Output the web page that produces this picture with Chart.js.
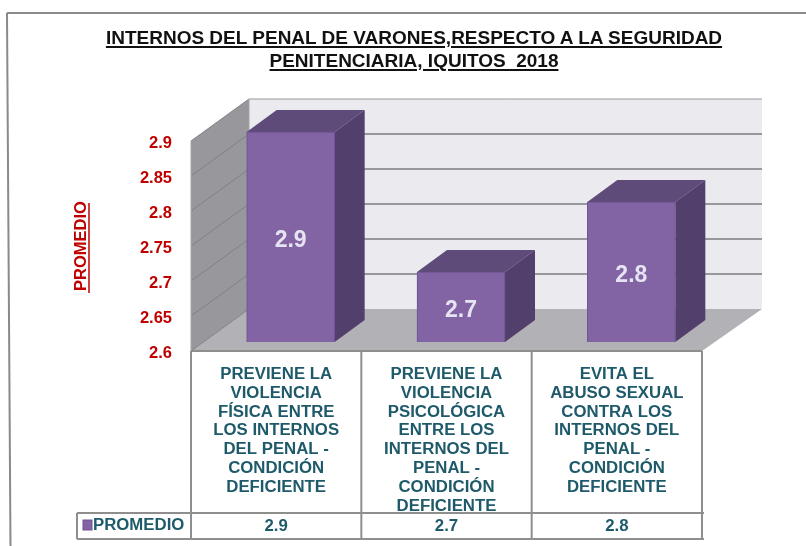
<!DOCTYPE html>
<html>
<head>
<meta charset="utf-8">
<script src="https://cdn.jsdelivr.net/npm/chart.js@4"></script>
<style>
  body { margin: 0; background: #fff; }
  #wrap { position: relative; width: 806px; height: 546px; overflow: hidden; }
  #title {
    position: absolute; left: 0; top: 26px; width: 828px;
    text-align: center; font: bold 19px/23px "Liberation Sans", Arial, sans-serif;
    color: #111; text-decoration: underline; text-decoration-thickness: 2px;
    text-underline-offset: 2px;
  }
  canvas { display: block; }
</style>
</head>
<body>
<div id="wrap">
  <div id="title">INTERNOS DEL PENAL DE VARONES,RESPECTO A LA SEGURIDAD<br>PENITENCIARIA, IQUITOS&nbsp; 2018</div>
  <canvas id="chart" width="806" height="546"></canvas>
</div>
<script>
const categories = [
  ['PREVIENE LA', 'VIOLENCIA', 'FÍSICA ENTRE', 'LOS INTERNOS', 'DEL PENAL -', 'CONDICIÓN', 'DEFICIENTE'],
  ['PREVIENE LA', 'VIOLENCIA', 'PSICOLÓGICA', 'ENTRE LOS', 'INTERNOS DEL', 'PENAL -', 'CONDICIÓN', 'DEFICIENTE'],
  ['EVITA EL', 'ABUSO SEXUAL', 'CONTRA LOS', 'INTERNOS DEL', 'PENAL -', 'CONDICIÓN', 'DEFICIENTE']
];
const promedio = [2.9, 2.7, 2.8];
const yTicks = [2.6, 2.65, 2.7, 2.75, 2.8, 2.85, 2.9];
const seriesName = 'PROMEDIO';

const RED = '#c00000';
const TEAL = '#1f5a6b';
const FONT = '"Liberation Sans", Arial, sans-serif';

// depth of the fake 3D box and of the bars inside it
const WALL_DX = 58, WALL_DX_RIGHT = 60, WALL_DY = -42;
const BAR_X = 14.5, BAR_Y = -9;
const BAR_DX = 30, BAR_DY = -22;

function poly(ctx, pts, fill) {
  ctx.beginPath();
  pts.forEach((p, i) => i ? ctx.lineTo(p[0], p[1]) : ctx.moveTo(p[0], p[1]));
  ctx.closePath();
  ctx.fillStyle = fill;
  ctx.fill();
}

function line(ctx, x1, y1, x2, y2, color, width) {
  ctx.beginPath();
  ctx.moveTo(x1, y1);
  ctx.lineTo(x2, y2);
  ctx.strokeStyle = color;
  ctx.lineWidth = width;
  ctx.stroke();
}

const box3d = {
  id: 'box3d',
  beforeDatasetsDraw(chart) {
    const { ctx, chartArea: a, scales: { y } } = chart;
    const top = y.getPixelForValue(2.9), bottom = y.getPixelForValue(2.6);
    const backRight = a.right + WALL_DX_RIGHT;

    // back wall, side wall, floor
    poly(ctx, [[a.left + WALL_DX, top + WALL_DY], [backRight, top + WALL_DY],
      [backRight, bottom + WALL_DY], [a.left + WALL_DX, bottom + WALL_DY]], '#ebeaef');
    poly(ctx, [[a.left, top], [a.left + WALL_DX, top + WALL_DY],
      [a.left + WALL_DX, bottom + WALL_DY], [a.left, bottom]], '#98989c');
    poly(ctx, [[a.left, bottom], [a.right, bottom],
      [backRight, bottom + WALL_DY], [a.left + WALL_DX, bottom + WALL_DY]], '#b2b1b5');

    // gridlines run along the side wall then the back wall
    yTicks.forEach(v => {
      const py = y.getPixelForValue(v);
      line(ctx, a.left, py, a.left + WALL_DX, py + WALL_DY, '#808085', 1);
      if (v > 2.6) line(ctx, a.left + WALL_DX, py + WALL_DY, backRight, py + WALL_DY, '#98989c', v === 2.9 ? 1 : 2);
    });
    line(ctx, a.left + WALL_DX, top + WALL_DY, a.left + WALL_DX, bottom + WALL_DY, '#a5a5a9', 1);
    line(ctx, a.left, top, a.left, bottom, '#a5a5a9', 1);

    // side and top faces of the bars
    ctx.save();
    ctx.translate(BAR_X, BAR_Y);
    chart.getDatasetMeta(0).data.forEach(bar => {
      const l = bar.x - bar.width / 2, r = bar.x + bar.width / 2;
      poly(ctx, [[l, bar.y], [r, bar.y], [r + BAR_DX, bar.y + BAR_DY], [l + BAR_DX, bar.y + BAR_DY]], '#5f4b7a');
      poly(ctx, [[r, bar.y], [r + BAR_DX, bar.y + BAR_DY], [r + BAR_DX, bar.base + BAR_DY], [r, bar.base]], '#533f6b');
    });
    ctx.restore();

    // the front faces go through the library, shifted into the box
    ctx.save();
    ctx.translate(BAR_X, BAR_Y);
  },
  afterDatasetsDraw(chart) {
    const { ctx, data } = chart;
    ctx.restore();
    ctx.fillStyle = '#e6e4f2';
    ctx.font = 'bold 23px ' + FONT;
    ctx.textAlign = 'center';
    ctx.textBaseline = 'middle';
    chart.getDatasetMeta(0).data.forEach((bar, i) => {
      ctx.fillText(data.datasets[0].data[i].toFixed(1), bar.x + BAR_X, (bar.y + bar.base) / 2 + BAR_Y + 3.5);
    });
  },
  afterDraw(chart) {
    const { ctx, chartArea: a, scales: { x, y } } = chart;
    const GRID = '#8e8e8e';
    const rowTop = 513, rowBottom = 539, rowLeft = 77;
    const step = (a.right - a.left) / categories.length;

    // outer frame, slightly crooked like the scan
    line(ctx, 7, 13, 806, 13, '#8a8a8a', 2);
    line(ctx, 7, 13, 10.5, 546, '#8a8a8a', 2);

    // data table
    line(ctx, a.left, a.bottom, a.right, a.bottom, GRID, 2);
    line(ctx, rowLeft, rowTop, a.right + 2, rowTop, GRID, 2);
    line(ctx, rowLeft, rowBottom, a.right + 2, rowBottom, GRID, 2);
    line(ctx, rowLeft, rowTop, rowLeft, rowBottom, GRID, 2);
    for (let i = 0; i <= categories.length; i++) {
      line(ctx, a.left + i * step, a.bottom, a.left + i * step, rowBottom, GRID, 2);
    }

    ctx.font = 'bold 16.8px ' + FONT;
    ctx.fillStyle = TEAL;
    ctx.textBaseline = 'middle';
    ctx.textAlign = 'center';
    promedio.forEach((v, i) => ctx.fillText(v.toFixed(1), x.getPixelForValue(i), 526.5));

    // legend key and name
    ctx.textAlign = 'left';
    ctx.fillText(seriesName, 93, 525.5);
    ctx.fillStyle = '#8263a3';
    ctx.fillRect(83, 520, 9, 10);
    ctx.strokeStyle = '#6e5596';
    ctx.lineWidth = 1;
    ctx.strokeRect(83, 520, 9, 10);

    // underline of the axis title
    const mid = (y.getPixelForValue(2.9) + y.getPixelForValue(2.6)) / 2;
    line(ctx, 89, mid - 43, 89, mid + 47, RED, 1.5);
  }
};

new Chart(document.getElementById('chart'), {
  type: 'bar',
  data: {
    labels: categories,
    datasets: [{
      label: seriesName,
      data: promedio,
      base: 2.6,
      backgroundColor: '#8263a3',
      borderColor: '#6e5596',
      borderWidth: 1,
      barThickness: 88,
      clip: false
    }]
  },
  options: {
    responsive: false,
    animation: false,
    layout: { padding: { top: 141, right: 104, bottom: 0, left: 0 } },
    plugins: { legend: { display: false }, title: { display: false }, tooltip: { enabled: false } },
    scales: {
      x: {
        afterFit(scale) { scale.height = 195; },
        grid: { display: false },
        border: { display: false },
        ticks: {
          color: TEAL,
          font: { family: FONT, size: 16.8, weight: 'bold', lineHeight: 1.12 },
          padding: 6,
          maxRotation: 0,
          autoSkip: false
        }
      },
      y: {
        min: 2.6,
        max: 2.9,
        afterFit(scale) { scale.width = 191; },
        afterBuildTicks(scale) { scale.ticks = yTicks.map(v => ({ value: v })); },
        grid: { display: false },
        border: { display: false },
        title: {
          display: true,
          text: seriesName,
          color: RED,
          font: { family: FONT, size: 16.5, weight: 'bold' },
          padding: { top: 72, bottom: 0 }
        },
        ticks: {
          color: RED,
          font: { family: FONT, size: 16.5, weight: 'bold' },
          padding: 11,
          labelOffset: 2,
          callback: v => String(+v.toFixed(2))
        }
      }
    }
  },
  plugins: [box3d]
});
</script>
</body>
</html>
